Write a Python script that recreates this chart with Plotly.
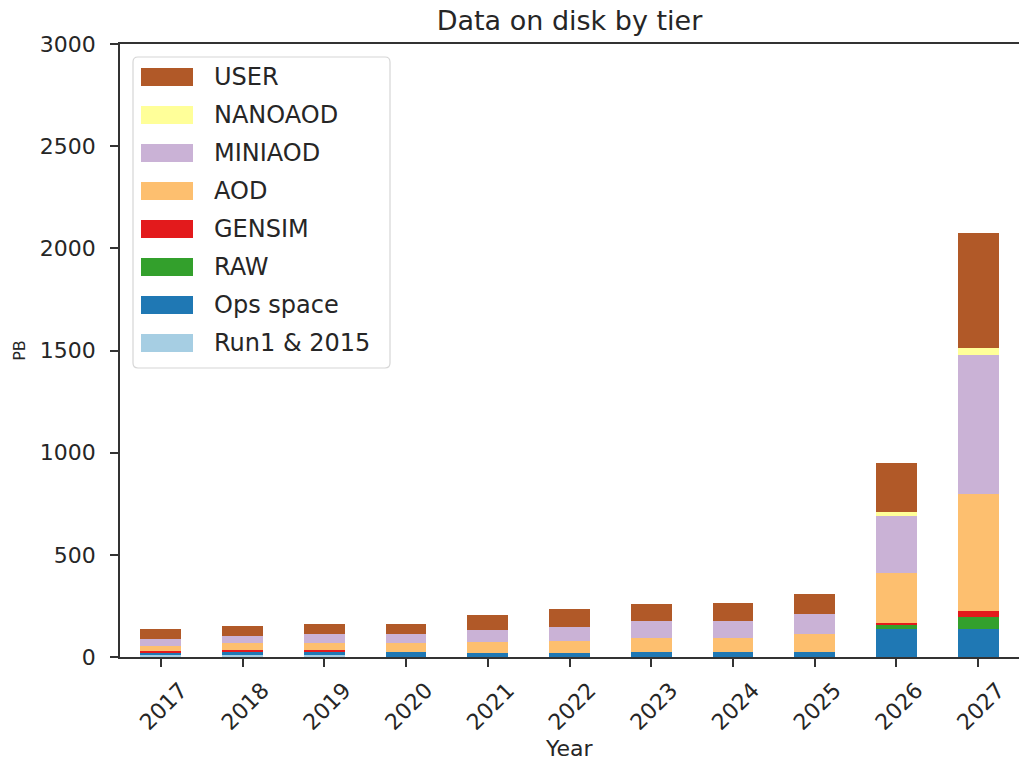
import plotly.graph_objects as go

years = ["2017", "2018", "2019", "2020", "2021", "2022", "2023", "2024", "2025", "2026", "2027"]
series_names = ["Run1 & 2015", "Ops space", "RAW", "GENSIM", "AOD", "MINIAOD", "NANOAOD", "USER"]
run1 = [8, 10, 10, 0, 0, 0, 0, 0, 0, 0, 0]
ops_space = [12, 14, 14, 25, 22, 22, 23, 23, 23, 135, 135]
raw = [0, 0, 0, 0, 0, 0, 0, 0, 0, 22, 62]
gensim = [10, 10, 10, 0, 0, 0, 0, 0, 0, 8, 30]
aod = [23, 33, 36, 42, 52, 57, 71, 71, 88, 248, 571]
miniaod = [33, 36, 41, 44, 58, 70, 82, 82, 98, 277, 680]
nanoaod = [0, 0, 0, 0, 0, 0, 0, 0, 0, 18, 36]
user = [49, 49, 49, 49, 73, 84, 82, 90, 98, 240, 562]

values = [run1, ops_space, raw, gensim, aod, miniaod, nanoaod, user]
colors = ["#a6cee3", "#1f78b4", "#33a02c", "#e31a1c", "#fdbf6f", "#cab2d6", "#ffff99", "#b15928"]

W, H = 1020, 761
L, R, T, B = 120, 1019, 44, 657
FONT = "DejaVu Sans"
TXT = "#262626"

fig = go.Figure()
for name, vals, col in zip(series_names, values, colors):
    fig.add_trace(go.Bar(x=years, y=vals, name=name, marker=dict(color=col, line=dict(width=0)),
                         width=0.5, showlegend=False))


def px_x(p):
    return (p - L) / (R - L)


def px_y(p):
    return (B - p) / (B - T)


shapes = []
annotations = []
# legend frame (rounded)
x0, x1, y0, y1 = 133, 390, 57, 368
r = 5
path = (f"M {px_x(x0 + r)},{px_y(y0)} L {px_x(x1 - r)},{px_y(y0)} "
        f"Q {px_x(x1)},{px_y(y0)} {px_x(x1)},{px_y(y0 + r)} L {px_x(x1)},{px_y(y1 - r)} "
        f"Q {px_x(x1)},{px_y(y1)} {px_x(x1 - r)},{px_y(y1)} L {px_x(x0 + r)},{px_y(y1)} "
        f"Q {px_x(x0)},{px_y(y1)} {px_x(x0)},{px_y(y1 - r)} L {px_x(x0)},{px_y(y0 + r)} "
        f"Q {px_x(x0)},{px_y(y0)} {px_x(x0 + r)},{px_y(y0)} Z")
shapes.append(dict(type="path", xref="paper", yref="paper", path=path,
                   line=dict(color="#d6d6d6", width=1.2), fillcolor="rgba(255,255,255,0.85)", layer="above"))
row0, step = 77, 38
for i, (name, col) in enumerate(zip(reversed(series_names), reversed(colors))):
    cy = row0 + i * step
    shapes.append(dict(type="rect", xref="paper", yref="paper",
                       x0=px_x(141), x1=px_x(193), y0=px_y(cy + 9), y1=px_y(cy - 9),
                       fillcolor=col, line=dict(width=0), layer="above"))
    annotations.append(dict(x=px_x(212), y=px_y(cy), xref="paper", yref="paper", text=name,
                            showarrow=False, xanchor="left", yanchor="middle",
                            font=dict(family=FONT, size=24, color=TXT)))

# x-axis title placed explicitly below rotated tick labels
annotations.append(dict(x=0.5, y=px_y(748), xref="paper", yref="paper", text="Year",
                        showarrow=False, xanchor="center", yanchor="middle",
                        font=dict(family=FONT, size=22, color=TXT)))

fig.update_layout(
    width=W, height=H,
    margin=dict(l=L, r=W - R, t=T, b=H - B, autoexpand=False),
    barmode="stack",
    plot_bgcolor="white", paper_bgcolor="white",
    font=dict(family=FONT, color=TXT),
    title=dict(text="Data on disk by tier", x=(L + R) / 2 / W, xanchor="center",
               y=1 - 21 / H, yanchor="middle", yref="container", automargin=False,
               font=dict(family=FONT, size=27, color=TXT)),
    shapes=shapes,
    annotations=annotations,
    showlegend=False,
)
fig.update_xaxes(
    type="category", range=[-0.5, 10.5], automargin=False,
    showline=True, linecolor="#333333", linewidth=1.5, mirror=True,
    ticks="outside", ticklen=8, tickwidth=1.5, tickcolor="#333333",
    tickangle=-45, ticklabelshift=20, ticklabelstandoff=2,
    tickfont=dict(family=FONT, size=22, color=TXT),
    showgrid=False,
)
fig.update_yaxes(
    range=[0, 3000], tickvals=[0, 500, 1000, 1500, 2000, 2500, 3000], automargin=False,
    showline=True, linecolor="#333333", linewidth=1.5, mirror=False,
    ticks="outside", ticklen=8, tickwidth=1.5, tickcolor="#333333",
    ticklabelstandoff=10,
    tickfont=dict(family=FONT, size=22, color=TXT),
    showgrid=False, zeroline=False,
    title=dict(text="PB", font=dict(family=FONT, size=16, color=TXT), standoff=10),
)

fig.write_html("out.html", config={"displayModeBar": False},
               post_script="document.body.style.margin='0';document.body.style.overflow='hidden';")
